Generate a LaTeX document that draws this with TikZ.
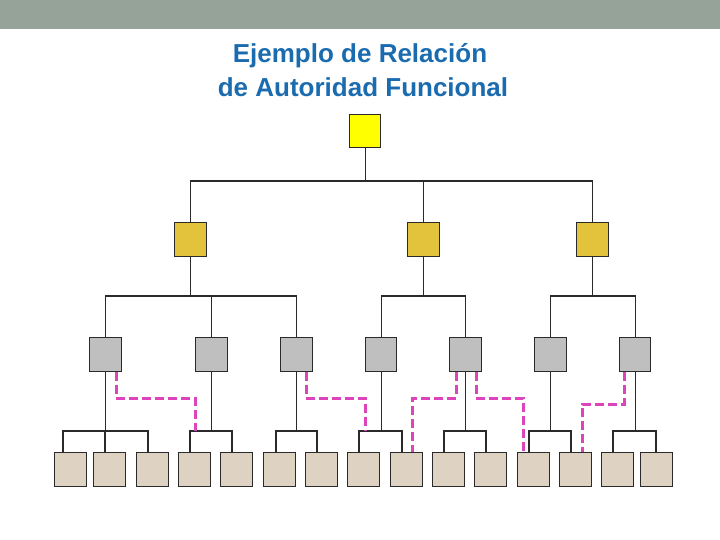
\documentclass[tikz,border=0pt]{standalone}
\usepackage{fontspec}
\setmainfont{Liberation Sans}
\definecolor{barc}{HTML}{95A399}
\definecolor{titlec}{HTML}{1B6BAF}
\definecolor{topc}{HTML}{FFFF00}
\definecolor{midc}{HTML}{E3C33B}
\definecolor{grayc}{HTML}{BFBFBF}
\definecolor{beigec}{HTML}{DED3C3}
\definecolor{linec}{HTML}{2A2A2A}
\definecolor{funcc}{HTML}{DD44BB}
\tikzset{
  box/.style={draw=linec, line width=1.3pt, minimum width=32pt, minimum height=34pt, inner sep=0pt, anchor=north west},
  conn/.style={draw=linec, line width=1.3pt},
  func/.style={draw=funcc, line width=3pt, dash pattern=on 9pt off 4pt}
}
\begin{document}
\begin{tikzpicture}[x=1pt,y=-1pt]
\useasboundingbox (0,0) rectangle (720,540);
\fill[barc] (0,0) rectangle (720,29);
\node[font=\bfseries\fontsize{26}{30}\selectfont, text=titlec, anchor=base] (t1) at (360,63) {Ejemplo de Relación};
\node[font=\bfseries\fontsize{26}{30}\selectfont, text=titlec, anchor=base] (t2) at (363,97) {de Autoridad Funcional};
% top
\node[box, fill=topc, minimum width=31pt, minimum height=33pt] (t) at (349,114) {};
% level 2
\node[box, fill=midc] (m1) at (174,222) {};
\node[box, fill=midc] (m2) at (407,222) {};
\node[box, fill=midc] (m3) at (576,222) {};
% level 3
\node[box, fill=grayc] (g1) at (89,337) {};
\node[box, fill=grayc] (g2) at (195,337) {};
\node[box, fill=grayc] (g3) at (280,337) {};
\node[box, fill=grayc, minimum width=31pt] (g4) at (365,337) {};
\node[box, fill=grayc] (g5) at (449,337) {};
\node[box, fill=grayc] (g6) at (534,337) {};
\node[box, fill=grayc, minimum width=31pt] (g7) at (619,337) {};
% level 4
\foreach \n/\x/\o in {1/54/9,2/93/12,3/136/12,4/178/12,5/220/12,6/263/13,7/305/12,8/347/12,9/390/12,10/432/12,11/474/12,12/517/12,13/559/12,14/601/12,15/640/16}{
  \node[box, fill=beigec] (b\n) at (\x,452) {};
  \coordinate (k\n) at ([xshift=\o pt]b\n.north west);
}
\coordinate (ya) at (0,181);
\coordinate (yb) at (0,296);
\coordinate (yc) at (0,431);
% connectors level 1-2
\draw[conn] (t.south) -- (t.south |- ya);
\draw[conn] (m1.north) -- (m1.north |- ya) -- (m3.north |- ya) -- (m3.north);
\draw[conn] (m2.north) -- (m2.north |- ya);
% level 2-3
\draw[conn] (m1.south) -- (m1.south |- yb);
\draw[conn] (g1.north) -- (g1.north |- yb) -- (g3.north |- yb) -- (g3.north);
\draw[conn] (g2.north) -- (g2.north |- yb);
\draw[conn] (m2.south) -- (m2.south |- yb);
\draw[conn] (g4.north) -- (g4.north |- yb) -- (g5.north |- yb) -- (g5.north);
\draw[conn] (m3.south) -- (m3.south |- yb);
\draw[conn] (g6.north) -- (g6.north |- yb) -- (g7.north |- yb) -- (g7.north);
% level 3-4
\draw[conn] (g1.south) -- (g1.south |- yc);
\draw[conn] (k1) -- (k1 |- yc) -- (k3 |- yc) -- (k3);
\draw[conn] (k2) -- (k2 |- yc);
\draw[conn] (g2.south) -- (g2.south |- yc);
\draw[conn] (k4) -- (k4 |- yc) -- (k5 |- yc) -- (k5);
\draw[conn] (g3.south) -- (g3.south |- yc);
\draw[conn] (k6) -- (k6 |- yc) -- (k7 |- yc) -- (k7);
\draw[conn] (g4.south) -- (g4.south |- yc);
\draw[conn] (k8) -- (k8 |- yc) -- (k9 |- yc) -- (k9);
\draw[conn] (g5.south) -- (g5.south |- yc);
\draw[conn] (k10) -- (k10 |- yc) -- (k11 |- yc) -- (k11);
\draw[conn] (g6.south) -- (g6.south |- yc);
\draw[conn] (k12) -- (k12 |- yc) -- (k13 |- yc) -- (k13);
\draw[conn] (g7.south) -- (g7.south |- yc);
\draw[conn] (k14) -- (k14 |- yc) -- (k15 |- yc) -- (k15);
% functional authority (dashed)
\coordinate (e1) at (195,431);
\coordinate (e2) at (365,431);
\draw[func] ([xshift=27pt]g1.south west) |- (e1 |- 0,398) -- (e1);
\draw[func] ([xshift=26pt]g3.south west) |- (e2 |- 0,398) -- (e2);
\draw[func] ([xshift=7pt]g5.south west) |- ([xshift=22pt]b9.north west |- 0,398) -- ([xshift=22pt]b9.north west);
\draw[func] ([xshift=27pt]g5.south west) |- ([xshift=6pt]b12.north west |- 0,398) -- ([xshift=6pt]b12.north west);
\draw[func] ([xshift=5pt]g7.south west) |- ([xshift=23pt]b13.north west |- 0,404) -- ([xshift=23pt]b13.north west);
\end{tikzpicture}
\end{document}
